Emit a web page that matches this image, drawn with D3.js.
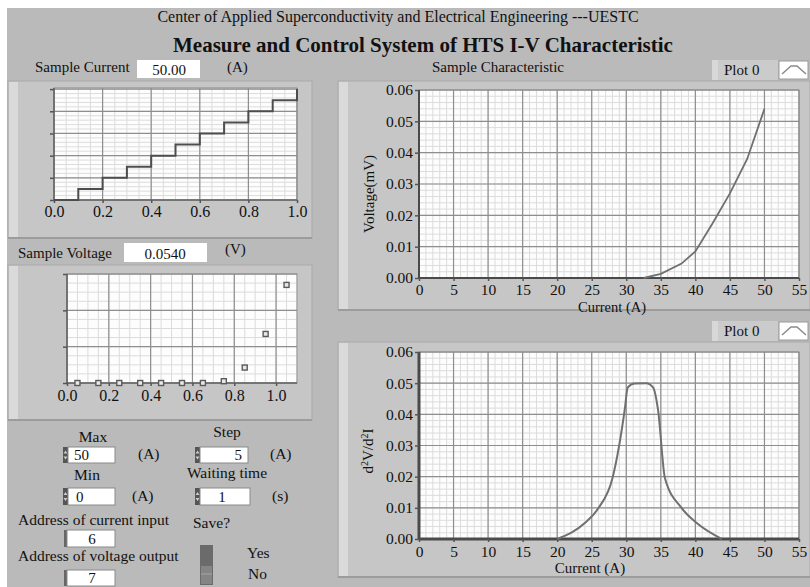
<!DOCTYPE html>
<html>
<head>
<meta charset="utf-8">
<script src="https://cdn.jsdelivr.net/npm/d3@7/dist/d3.min.js"></script>
<style>
  body { margin: 0; background: #fff; }
  svg text { font-family: "Liberation Serif", "Times New Roman", serif; fill: #111; }
</style>
</head>
<body>
<div id="panel"></div>
<script>
// ---- data ----
// Sample Current waveform (step chart, top left)
const stepX = [0.0, 0.1, 0.2, 0.3, 0.4, 0.5, 0.6, 0.7, 0.8, 0.9, 1.0];
const stepCurrent = [0, 5, 10, 15, 20, 25, 30, 35, 40, 45, 50];
const stepTicksX = [0.0, 0.2, 0.4, 0.6, 0.8, 1.0];
const stepTicksY = [0, 10, 20, 30, 40, 50];

// Sample Voltage points (scatter, middle left)
const voltX = [0.05, 0.15, 0.25, 0.35, 0.45, 0.55, 0.65, 0.75, 0.85, 0.95, 1.05];
const voltValues = [0, 0, 0, 0, 0, 0, 0, 0.0010, 0.0085, 0.027, 0.054];
const voltTicksX = [0.0, 0.2, 0.4, 0.6, 0.8, 1.0];
const voltTicksY = [0, 0.02, 0.04, 0.06];

// Sample Characteristic (I-V)
const ivCurrent = [32.5, 35, 38, 40, 42.5, 45, 47.5, 50];
const ivVoltage = [0, 0.0013, 0.0046, 0.0085, 0.0175, 0.027, 0.038, 0.054];

// second derivative
const d2Current = [20, 24, 26, 28, 29.8, 30.2, 31.2, 32.9, 33.9, 34.6, 35.6, 38, 40.2, 43.8];
const d2Value = [0, 0.0051, 0.0100, 0.0195, 0.0419, 0.0486, 0.0499, 0.0500, 0.0486, 0.0414, 0.0195, 0.0100, 0.0051, 0];

const bigTicksX = [0, 5, 10, 15, 20, 25, 30, 35, 40, 45, 50, 55];
const bigTicksY = [0, 0.01, 0.02, 0.03, 0.04, 0.05, 0.06];

// ---- page ----
const W = 810, H = 587;
const svg = d3.select("#panel").append("svg").attr("width", W).attr("height", H);

svg.append("rect").attr("width", W).attr("height", H).attr("fill", "#fff");
svg.append("rect").attr("x", 7).attr("y", 8).attr("width", W - 7).attr("height", H - 8).attr("fill", "#bababa");

svg.append("text").attr("x", 398).attr("y", 22).attr("text-anchor", "middle")
  .style("font-size", "16px").text("Center of Applied Superconductivity and Electrical Engineering ---UESTC");
svg.append("text").attr("x", 423).attr("y", 52).attr("text-anchor", "middle")
  .style("font-size", "21px").style("font-weight", "bold")
  .text("Measure and Control System of HTS I-V Characteristic");

function frame(x, y, w, h) {
  const g = svg.append("g");
  g.append("rect").attr("x", x).attr("y", y).attr("width", w).attr("height", h)
    .attr("fill", "#c6c6c6").attr("stroke", "#a9a9a9");
  g.append("rect").attr("x", x + 1).attr("y", y + 1).attr("width", 9).attr("height", h - 2)
    .attr("fill", "#dadada");
  g.append("line").attr("x1", x).attr("x2", x + w).attr("y1", y + h).attr("y2", y + h)
    .attr("stroke", "#9c9c9c").attr("stroke-width", 2);
  return g;
}

function drawPlot(cfg) {
  const g = svg.append("g");
  const x = d3.scaleLinear().domain(cfg.xDomain).range([cfg.left, cfg.right]);
  const y = d3.scaleLinear().domain(cfg.yDomain).range([cfg.bottom, cfg.top]);

  g.append("rect").attr("x", cfg.left).attr("y", cfg.top)
    .attr("width", cfg.right - cfg.left).attr("height", cfg.bottom - cfg.top)
    .attr("fill", "#fdfdfd");

  const xMinor = d3.range(cfg.xDomain[0], cfg.xDomain[1] + 1e-9, cfg.xMinor);
  const yMinor = d3.range(cfg.yDomain[0], cfg.yDomain[1] + 1e-9, cfg.yMinor);

  g.selectAll(".vmin").data(xMinor).join("line").attr("class", "vmin")
    .attr("x1", d => x(d)).attr("x2", d => x(d)).attr("y1", cfg.top).attr("y2", cfg.bottom)
    .attr("stroke", "#dcdcdc").attr("stroke-width", 1);
  g.selectAll(".hmin").data(yMinor).join("line").attr("class", "hmin")
    .attr("y1", d => y(d)).attr("y2", d => y(d)).attr("x1", cfg.left).attr("x2", cfg.right)
    .attr("stroke", "#dcdcdc").attr("stroke-width", 1);
  g.selectAll(".vmaj").data(cfg.xTicks).join("line").attr("class", "vmaj")
    .attr("x1", d => x(d)).attr("x2", d => x(d)).attr("y1", cfg.top).attr("y2", cfg.bottom)
    .attr("stroke", "#8e8e8e").attr("stroke-width", 1.2);
  g.selectAll(".hmaj").data(cfg.yTicks).join("line").attr("class", "hmaj")
    .attr("y1", d => y(d)).attr("y2", d => y(d)).attr("x1", cfg.left).attr("x2", cfg.right)
    .attr("stroke", "#8e8e8e").attr("stroke-width", 1.2);

  g.append("rect").attr("x", cfg.left).attr("y", cfg.top)
    .attr("width", cfg.right - cfg.left).attr("height", cfg.bottom - cfg.top)
    .attr("fill", "none").attr("stroke", "#8a8a8a");
  g.append("line").attr("x1", cfg.left).attr("x2", cfg.right).attr("y1", cfg.bottom).attr("y2", cfg.bottom)
    .attr("stroke", "#4a4a4a").attr("stroke-width", cfg.axisW);
  g.append("line").attr("x1", cfg.left).attr("x2", cfg.left).attr("y1", cfg.top).attr("y2", cfg.bottom)
    .attr("stroke", "#4a4a4a").attr("stroke-width", cfg.axisW);

  const xa = g.append("g").attr("transform", `translate(0,${cfg.bottom})`)
    .call(d3.axisBottom(x).tickValues(cfg.xTicks).tickSize(3).tickPadding(cfg.xPad).tickFormat(cfg.xFormat));
  const ya = g.append("g").attr("transform", `translate(${cfg.left},0)`)
    .call(d3.axisLeft(y).tickValues(cfg.yTicks).tickSize(4).tickPadding(2).tickFormat(cfg.yFormat));
  [xa, ya].forEach(a => {
    a.select(".domain").remove();
    a.attr("font-family", null).attr("font-size", null);
    a.selectAll("line").attr("stroke", "#555").attr("stroke-width", 1.5);
    a.selectAll("text").style("font-size", cfg.fontSize).attr("fill", "#111");
  });
  return { g, x, y };
}

// ---- Sample Current (top left) ----
svg.append("text").attr("x", 35).attr("y", 72).style("font-size", "15px").text("Sample Current");
svg.append("rect").attr("x", 137).attr("y", 60).attr("width", 63).attr("height", 18).attr("fill", "#fff");
svg.append("text").attr("x", 169).attr("y", 75).attr("text-anchor", "middle").style("font-size", "15px").text("50.00");
svg.append("text").attr("x", 227).attr("y", 72).style("font-size", "15px").text("(A)");
frame(8, 81, 304, 157);
const p1 = drawPlot({
  left: 54, right: 297, top: 88, bottom: 200,
  xDomain: [0, 1], yDomain: [0, 50.5], xTicks: stepTicksX, yTicks: stepTicksY,
  xMinor: 0.05, yMinor: 2, xPad: 3, axisW: 1,
  xFormat: d3.format(".1f"), yFormat: () => "", fontSize: "16px"
});
p1.g.append("path")
  .datum(stepX.map((v, i) => [v, stepCurrent[i]]))
  .attr("fill", "none").attr("stroke", "#4d4d4d").attr("stroke-width", 2)
  .attr("d", d3.line().x(d => p1.x(d[0])).y(d => p1.y(d[1])).curve(d3.curveStepAfter));

// ---- Sample Voltage (middle left) ----
svg.append("text").attr("x", 18).attr("y", 258).style("font-size", "15px").text("Sample Voltage");
svg.append("rect").attr("x", 124).attr("y", 243).attr("width", 83).attr("height", 19).attr("fill", "#fff");
svg.append("text").attr("x", 165).attr("y", 259).attr("text-anchor", "middle").style("font-size", "15px").text("0.0540");
svg.append("text").attr("x", 225).attr("y", 254).style("font-size", "15px").text("(V)");
frame(8, 265, 304, 155);
const p2 = drawPlot({
  left: 67, right: 297, top: 274, bottom: 383,
  xDomain: [0, 1.1], yDomain: [0, 0.06], xTicks: voltTicksX, yTicks: voltTicksY,
  xMinor: 0.05, yMinor: 0.005, xPad: 4, axisW: 1,
  xFormat: d3.format(".1f"), yFormat: () => "", fontSize: "16px"
});
p2.g.selectAll(".pt").data(voltX.map((v, i) => [v, voltValues[i]])).join("rect").attr("class", "pt")
  .attr("x", d => p2.x(d[0]) - 2.5).attr("y", d => p2.y(d[1]) - 2.5)
  .attr("width", 5).attr("height", 5)
  .attr("fill", "#e8e8e8").attr("stroke", "#5a5a5a").attr("stroke-width", 1.4);

// ---- controls ----
function label(x, y, txt, anchor) {
  svg.append("text").attr("x", x).attr("y", y).attr("text-anchor", anchor || "start")
    .style("font-size", "15.5px").text(txt);
}
function spinBox(x, y, w, h, val, tx, anchor, incr) {
  if (incr) {
    svg.append("rect").attr("x", x - 5).attr("y", y).attr("width", 5).attr("height", h).attr("fill", "#555");
    svg.append("path").attr("d", `M${x - 4.5},${y + h / 2 - 1.5} l2,-3 l2,3 z M${x - 4.5},${y + h / 2 + 1.5} l2,3 l2,-3 z`)
      .attr("fill", "#ccc");
  } else {
    svg.append("rect").attr("x", x - 3).attr("y", y).attr("width", 4).attr("height", h).attr("fill", "#666");
  }
  svg.append("rect").attr("x", x).attr("y", y).attr("width", w).attr("height", h)
    .attr("fill", "#fff").attr("stroke", "#8a8a8a").attr("stroke-width", 1);
  svg.append("text").attr("x", tx).attr("y", y + h - 3).attr("text-anchor", anchor)
    .style("font-size", "15px").text(val);
}
label(93, 442, "Max", "middle");
spinBox(68, 447, 47, 16, "50", 74, "start", true);
label(138, 459, "(A)");
label(227, 437, "Step", "middle");
spinBox(200, 447, 48, 16, "5", 242, "end", true);
label(270, 459, "(A)");
label(87, 480, "Min", "middle");
spinBox(68, 488, 47, 17, "0", 76, "start", true);
label(132, 501, "(A)");
label(227, 478, "Waiting time", "middle");
spinBox(200, 488, 50, 17, "1", 222, "middle", true);
label(272, 501, "(s)");
label(18, 525, "Address of current input");
spinBox(67, 530, 48, 17, "6", 92, "middle", false);
label(193, 528, "Save?");
label(18, 561, "Address of voltage output");
spinBox(67, 570, 48, 16, "7", 92, "middle", false);

// toggle switch
svg.append("rect").attr("x", 200).attr("y", 545).attr("width", 13).attr("height", 40).attr("fill", "#6b6b6b");
svg.append("rect").attr("x", 201).attr("y", 566).attr("width", 11).attr("height", 18).attr("fill", "#858585");
svg.append("line").attr("x1", 201).attr("x2", 212).attr("y1", 574).attr("y2", 574).attr("stroke", "#a5a5a5");
label(247, 558, "Yes");
label(248, 579, "No");

// ---- right charts ----
function legendBox(y) {
  svg.append("rect").attr("x", 712).attr("y", y).attr("width", 66).attr("height", 20).attr("fill", "#cbcbcb");
  svg.append("rect").attr("x", 712).attr("y", y).attr("width", 6).attr("height", 20).attr("fill", "#d8d8d8");
  svg.append("text").attr("x", 724).attr("y", y + 15).style("font-size", "15px").text("Plot 0");
  svg.append("rect").attr("x", 779).attr("y", y + 1).attr("width", 29).attr("height", 18)
    .attr("fill", "#fff").attr("stroke", "#9a9a9a");
  svg.append("path").attr("d", `M782,${y + 14} L791,${y + 6} L797,${y + 6} L806,${y + 14}`)
    .attr("fill", "none").attr("stroke", "#8a8a8a").attr("stroke-width", 1.5);
}

svg.append("text").attr("x", 498).attr("y", 72).attr("text-anchor", "middle").style("font-size", "15px")
  .text("Sample Characteristic");
legendBox(60);
frame(338, 81, 472, 229);
const p3 = drawPlot({
  left: 419, right: 799, top: 90, bottom: 278,
  xDomain: [0, 55], yDomain: [0, 0.06], xTicks: bigTicksX, yTicks: bigTicksY,
  xMinor: 1, yMinor: 0.002, xPad: 3, axisW: 2,
  xFormat: d3.format("d"), yFormat: d3.format(".2f"), fontSize: "15.5px"
});
p3.g.append("path")
  .datum(ivCurrent.map((v, i) => [v, ivVoltage[i]]))
  .attr("fill", "none").attr("stroke", "#707070").attr("stroke-width", 1.8)
  .attr("d", d3.line().x(d => p3.x(d[0])).y(d => p3.y(d[1])));
svg.append("text").attr("x", 612).attr("y", 312).attr("text-anchor", "middle").style("font-size", "14.5px")
  .text("Current (A)");
svg.append("text").attr("transform", "translate(374,194) rotate(-90)").attr("text-anchor", "middle")
  .style("font-size", "15px").text("Voltage(mV)");

legendBox(321);
frame(338, 342, 472, 235);
const p4 = drawPlot({
  left: 419, right: 799, top: 352, bottom: 539,
  xDomain: [0, 55], yDomain: [0, 0.06], xTicks: bigTicksX, yTicks: bigTicksY,
  xMinor: 1, yMinor: 0.002, xPad: 4, axisW: 3,
  xFormat: d3.format("d"), yFormat: d3.format(".2f"), fontSize: "15.5px"
});
p4.g.append("path")
  .datum(d2Current.map((v, i) => [v, d2Value[i]]))
  .attr("fill", "none").attr("stroke", "#707070").attr("stroke-width", 2)
  .attr("d", d3.line().x(d => p4.x(d[0])).y(d => p4.y(d[1])).curve(d3.curveMonotoneX));
svg.append("text").attr("x", 590).attr("y", 573).attr("text-anchor", "middle").style("font-size", "15px")
  .text("Current (A)");
const yt = svg.append("text").attr("transform", "translate(373,451) rotate(-90)").attr("text-anchor", "middle")
  .style("font-size", "15px");
yt.append("tspan").text("d");
yt.append("tspan").attr("dy", -5).style("font-size", "10px").text("2");
yt.append("tspan").attr("dy", 5).text("V/d");
yt.append("tspan").attr("dy", -5).style("font-size", "10px").text("2");
yt.append("tspan").attr("dy", 5).text("I");
</script>
</body>
</html>
